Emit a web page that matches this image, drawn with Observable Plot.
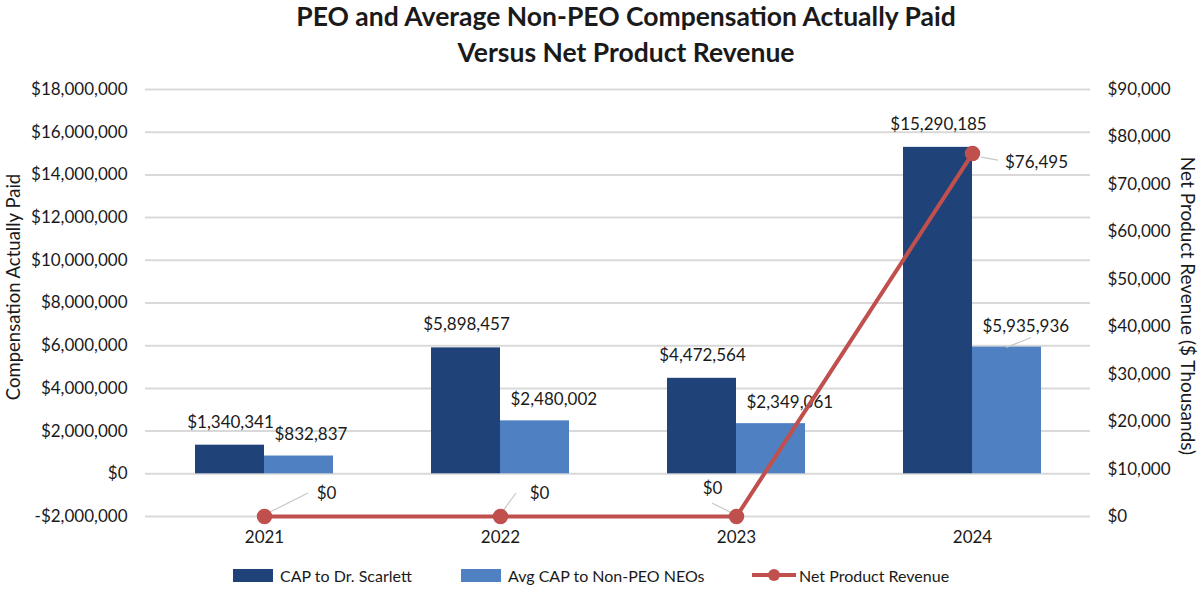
<!DOCTYPE html>
<html><head><meta charset="utf-8">
<script src="https://cdn.jsdelivr.net/npm/d3@7"></script>
<script src="https://cdn.jsdelivr.net/npm/@observablehq/plot@0.6"></script>
<style>
body{margin:0;background:#fff;font-family:Lato,"Noto Sans",sans-serif;}
#wrap{position:relative;width:1200px;height:594px;overflow:hidden;}
#title{box-sizing:border-box;height:74px;padding-left:52px;text-align:center;font-weight:700;font-size:26.5px;color:#1a1a1a;}
#title .l1{line-height:32px;height:32px;}
#title .l2{line-height:32px;height:32px;margin-top:4px;}
#legend{position:relative;height:38px;font-size:16px;color:#1a1a1a;}
.item{position:absolute;top:0;height:38px;display:flex;align-items:center;white-space:nowrap;}
.sw{display:inline-block;width:40px;height:13px;margin-right:7px;}
</style></head><body>
<div id="wrap">
<div id="title"><div class="l1">PEO and Average Non-PEO Compensation Actually Paid</div><div class="l2">Versus Net Product Revenue</div></div>
<div id="chart"></div>
<div id="legend"></div>
</div>
<script>
// ---- data ----
const years = ["2021", "2022", "2023", "2024"];
const capPEO = [1340341, 5898457, 4472564, 15290185];      // CAP to Dr. Scarlett
const capNonPEO = [832837, 2480002, 2349061, 5935936];     // Avg CAP to Non-PEO NEOs
const netRevenue = [0, 0, 0, 76495];                       // $ thousands
const compTicks = [-2000000, 0, 2000000, 4000000, 6000000, 8000000, 10000000, 12000000, 14000000, 16000000, 18000000];
const revTicks = [0, 10000, 20000, 30000, 40000, 50000, 60000, 70000, 80000, 90000];
const seriesNames = ["CAP to Dr. Scarlett", "Avg CAP to Non-PEO NEOs", "Net Product Revenue"];

const DARK = "#1f4278", LIGHT = "#4f81c2", RED = "#c0504d";

const rows = years.map((year, i) => ({year, peo: capPEO[i], nonpeo: capNonPEO[i], rev: netRevenue[i]}));

// secondary axis: revenue 0..90,000 maps onto compensation -2M..18M
const revMin = revTicks[0], revMax = revTicks[revTicks.length - 1];
const compMin = compTicks[0], compMax = compTicks[compTicks.length - 1];
const toY = r => compMin + (r - revMin) * (compMax - compMin) / (revMax - revMin);
const fromY = y => revMin + (y - compMin) * (revMax - revMin) / (compMax - compMin);
const fmtMoney = v => (v < 0 ? "-$" : "$") + d3.format(",")(Math.abs(Math.round(v)));

function bandCenter(scales, key) {
  const sx = scales.x;
  const bw = typeof sx.bandwidth === "function" ? sx.bandwidth() : (sx.bandwidth || 0);
  return sx(key) + bw / 2;
}

// leader lines (label connectors), offsets relative to the anchored point
function leaders(index, scales) {
  const g = d3.create("svg:g").attr("stroke", "#c8c8c8").attr("stroke-width", 1.2);
  const segs = [
    {year: "2021", v: toY(netRevenue[0]), off: [6, -4, 44, -23]},
    {year: "2022", v: toY(netRevenue[1]), off: [3, -5, 16, -23]},
    {year: "2023", v: toY(netRevenue[2]), off: [-4, -3, -24, -13]},
    {year: "2024", v: toY(netRevenue[3]), off: [9, 4, 26, 7]},
    {year: "2024", v: capNonPEO[3], off: [0, 1, 25, -9], shift: 34}
  ];
  for (const s of segs) {
    const cx = bandCenter(scales, s.year) + (s.shift || 0);
    const cy = scales.y(s.v);
    g.append("line").attr("x1", cx + s.off[0]).attr("y1", cy + s.off[1])
      .attr("x2", cx + s.off[2]).attr("y2", cy + s.off[3]);
  }
  return g.node();
}

const revY = d => toY(d.rev);

const chart = Plot.plot({
  width: 1200,
  height: 482,
  marginTop: 15,
  marginBottom: 40,
  marginLeft: 145,
  marginRight: 110,
  style: {fontFamily: "Lato, 'Noto Sans', sans-serif", fontSize: "17px", color: "#1a1a1a", background: "#fff"},
  x: {domain: years, padding: 0, label: null},
  y: {domain: [compMin, compMax], label: null},
  marks: [
    Plot.gridY(compTicks, {stroke: "#d9d9d9", strokeWidth: 2, strokeOpacity: 1}),
    Plot.axisY(compTicks, {anchor: "left", tickSize: 0, tickPadding: 18, tickFormat: fmtMoney, label: null}),
    Plot.axisY(revTicks.map(toY), {anchor: "right", tickSize: 0, tickPadding: 17, tickFormat: d => fmtMoney(fromY(d)), label: null}),
    Plot.axisX({tickSize: 0, tickPadding: 14, label: null}),
    Plot.barY(rows, {x: "year", y: "peo", fill: DARK, insetLeft: 49, insetRight: 118}),
    Plot.barY(rows, {x: "year", y: "nonpeo", fill: LIGHT, insetLeft: 118, insetRight: 49}),
    Plot.text(rows, {x: "year", y: "peo", text: d => fmtMoney(d.peo), dx: -34, dy: -23, fill: "#1a1a1a"}),
    Plot.text(rows, {x: "year", y: "nonpeo", text: d => fmtMoney(d.nonpeo), textAnchor: "start", dx: 10, dy: -21, fill: "#1a1a1a"}),
    leaders,
    Plot.line(rows, {x: "year", y: revY, stroke: RED, strokeWidth: 4}),
    Plot.dot(rows, {x: "year", y: revY, r: 7, fill: RED, stroke: RED}),
    Plot.text(rows, {filter: d => d.year === "2021", x: "year", y: revY, text: d => fmtMoney(d.rev), dx: 62, dy: -23, fill: "#1a1a1a"}),
    Plot.text(rows, {filter: d => d.year === "2022", x: "year", y: revY, text: d => fmtMoney(d.rev), dx: 39, dy: -23, fill: "#1a1a1a"}),
    Plot.text(rows, {filter: d => d.year === "2023", x: "year", y: revY, text: d => fmtMoney(d.rev), dx: -24, dy: -28, fill: "#1a1a1a"}),
    Plot.text(rows, {filter: d => d.year === "2024", x: "year", y: revY, text: d => fmtMoney(d.rev), dx: 64, dy: 9, fill: "#1a1a1a"}),
    Plot.text(["Compensation Actually Paid"], {frameAnchor: "left", textAnchor: "middle", text: d => d, rotate: -90, dx: -131, dy: -16, fontSize: 18.5, fill: "#1a1a1a"}),
    Plot.text(["Net Product Revenue ($ Thousands)"], {frameAnchor: "right", textAnchor: "middle", text: d => d, rotate: 90, dx: 97, dy: 3, fontSize: 19, fill: "#1a1a1a"})
  ]
});
document.getElementById("chart").appendChild(chart);

// legend
const legend = d3.select("#legend");
const items = [
  {name: seriesNames[0], type: "bar", color: DARK, left: 233},
  {name: seriesNames[1], type: "bar", color: LIGHT, left: 461},
  {name: seriesNames[2], type: "line", color: RED, left: 752}
];
for (const it of items) {
  const d = legend.append("div").attr("class", "item").style("left", it.left + "px");
  if (it.type === "bar") {
    d.append("span").attr("class", "sw").style("background", it.color);
  } else {
    const s = d.append("svg").attr("width", 44).attr("height", 16).style("margin-right", "3px");
    s.append("line").attr("x1", 0).attr("x2", 44).attr("y1", 8).attr("y2", 8).attr("stroke", it.color).attr("stroke-width", 4);
    s.append("circle").attr("cx", 22).attr("cy", 8).attr("r", 6).attr("fill", it.color);
  }
  d.append("span").text(it.name);
}
</script>
</body></html>
